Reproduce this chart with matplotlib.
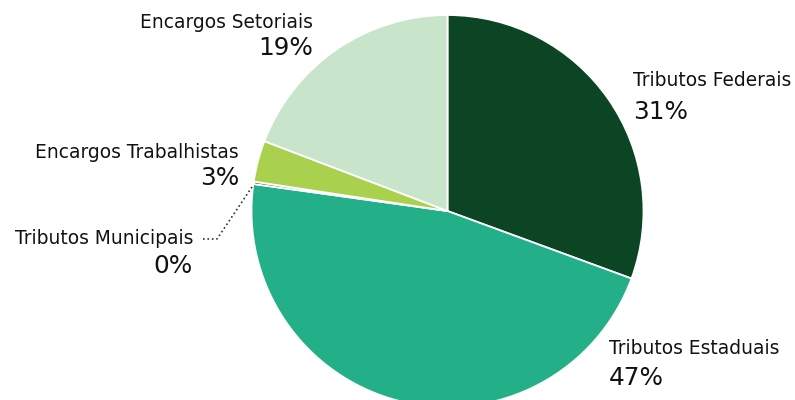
import matplotlib.pyplot as plt

# Data
categories = ["Tributos Federais", "Tributos Estaduais", "Tributos Municipais",
              "Encargos Trabalhistas", "Encargos Setoriais"]
shares = [30.6, 46.6, 0.2, 3.4, 19.2]
colors = ["#0c4524", "#23b089", "#2f3b33", "#a9d14e", "#c8e5cb"]

W, H = 795, 400
fig = plt.figure(figsize=(W / 100, H / 100), dpi=100)
ax = fig.add_axes([0, 0, 1, 1])

# pie in pixel-like data units (y measured from bottom)
cx, cy, r = 447.5, H - 211, 196
ax.pie(shares, colors=colors, startangle=90, counterclock=False,
       center=(cx, cy), radius=r,
       wedgeprops=dict(edgecolor="white", linewidth=1.3))

ax.set_xlim(0, W)
ax.set_ylim(0, H)
ax.set_aspect("auto")
ax.axis("off")

# label layout: (x, y_name, y_pct from top, alignment)
label_pos = {
    "Tributos Federais": (633, 81, 112, "left"),
    "Tributos Estaduais": (609, 348, 378, "left"),
    "Tributos Municipais": (193, 238, 266, "right"),
    "Encargos Trabalhistas": (239, 153, 178, "right"),
    "Encargos Setoriais": (313, 22, 48, "right"),
}

for name, val in zip(categories, shares):
    x, yn, yp, ha = label_pos[name]
    ax.text(x, H - yn, name, ha=ha, va="center", fontsize=13.4,
            color="#111111", family="DejaVu Sans")
    ax.text(x, H - yp, f"{val:.0f}%", ha=ha, va="center", fontsize=17.8,
            color="#111111", family="DejaVu Sans")

# dotted leader for the tiny slice
ax.plot([203, 217, 252], [H - 239, H - 239, H - 187], linestyle=":",
        color="#333333", linewidth=1.2)

fig.savefig("out.png", dpi=100)
